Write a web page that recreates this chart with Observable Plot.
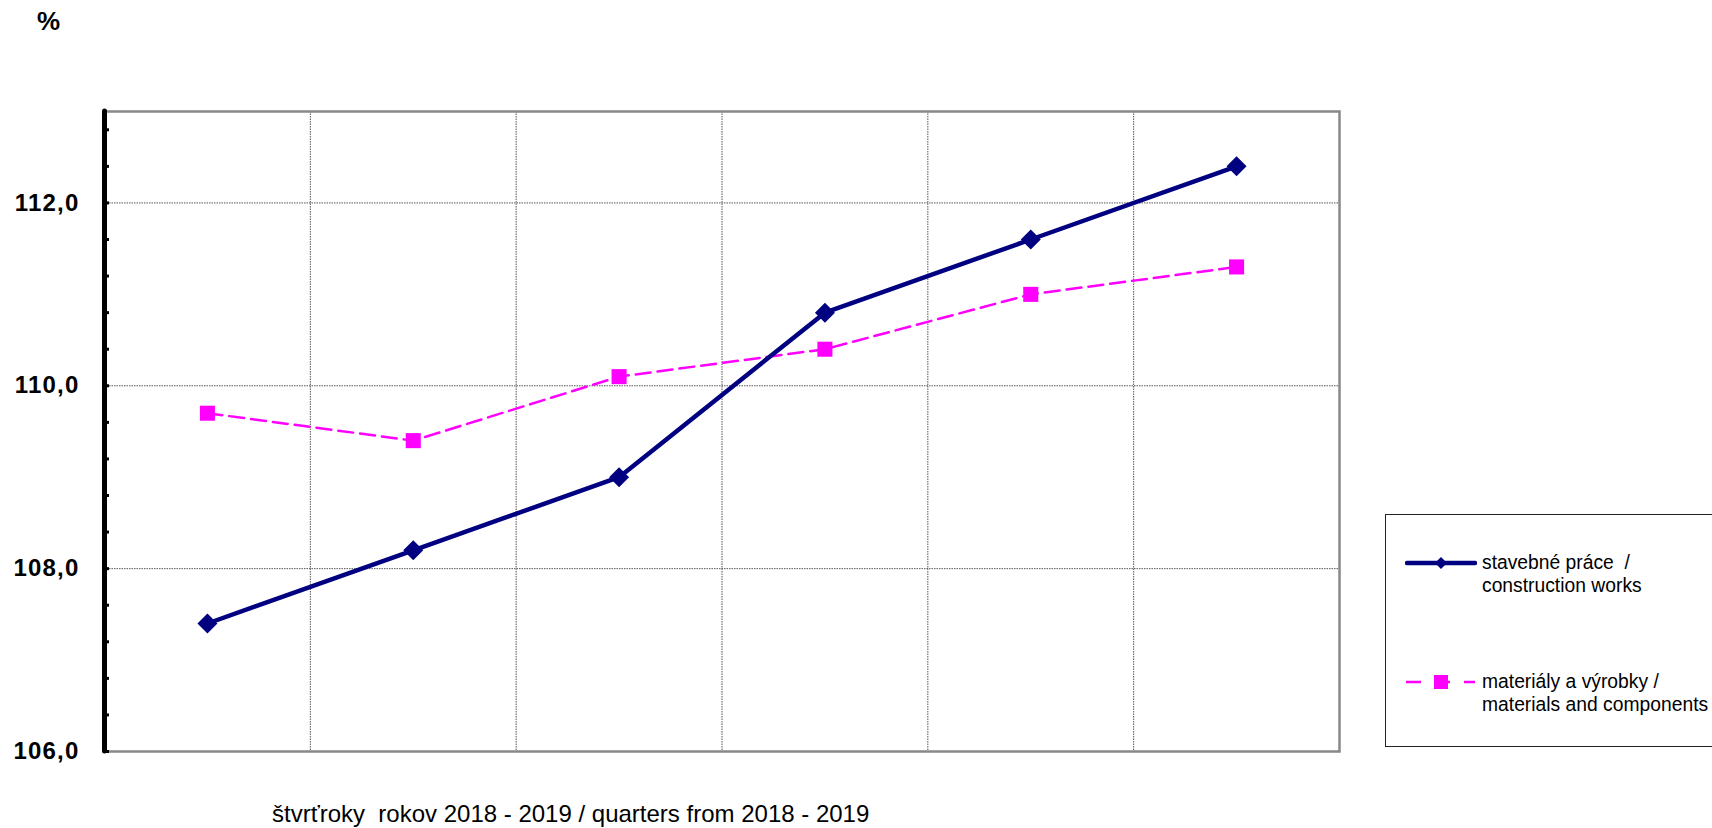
<!DOCTYPE html>
<html>
<head>
<meta charset="utf-8">
<script src="https://cdn.jsdelivr.net/npm/d3@7"></script>
<script src="https://cdn.jsdelivr.net/npm/@observablehq/plot@0.6"></script>
<style>
  html, body { margin: 0; padding: 0; background: #fff; }
  body { font-family: "Liberation Sans", Arial, sans-serif; }
  #wrap { position: relative; width: 1712px; height: 828px; overflow: hidden; }
  #chart { position: absolute; left: 0; top: 0; }
  #chart svg g[aria-label="y-axis tick label"] text { letter-spacing: 1.2px; }
  #pct { position: absolute; left: 37px; top: 8px; font-size: 26px; font-weight: bold; color: #000; line-height: 1; }
  #xlabel { position: absolute; left: 272px; top: 802px; font-size: 24px; color: #000; white-space: pre; line-height: 1; }
  #legend { position: absolute; left: 1385px; top: 514px; width: 400px; height: 233px; border: 1px solid #222; box-sizing: border-box; background: #fff; }
  .item { position: absolute; left: 19px; display: flex; align-items: flex-start; }
  .item svg { flex: none; }
  .item .txt { font-size: 19.3px; line-height: 23px; color: #000; margin-left: 5px; white-space: pre; }
</style>
</head>
<body>
<div id="wrap">
  <div id="chart"></div>
  <div id="pct"></div>
  <div id="xlabel"></div>
  <div id="legend"></div>
</div>
<script>
// ---- data ----
const quarters = ["II.Q 2018", "III.Q 2018", "IV.Q 2018", "I.Q 2019", "II.Q 2019", "III.Q 2019"];
const construction = [107.4, 108.2, 109.0, 110.8, 111.6, 112.4];
const materials = [109.7, 109.4, 110.1, 110.4, 111.0, 111.3];
const yTickLabels = [106, 108, 110, 112];
const seriesNames = ["stavebné práce  /\nconstruction works", "materiály a výrobky /\nmaterials and components"];
const xTitle = "štvrťroky  rokov 2018 - 2019 / quarters from 2018 - 2019";
const yTitle = "%";

const navy = "#000080";
const magenta = "#FF00FF";

const consData = quarters.map((q, i) => ({q, i, v: construction[i]}));
const matData = quarters.map((q, i) => ({q, i, v: materials[i]}));
const minorTicks = d3.range(0, 18).map(k => +(106 + k * 0.4).toFixed(1));
const fmt = d => d.toFixed(1).replace(".", ",");
const xPos = d => d.i + 0.5;

const plot = Plot.plot({
  width: 1712,
  height: 828,
  marginLeft: 104,
  marginRight: 373,
  marginTop: 111,
  marginBottom: 77,
  style: { fontFamily: "Liberation Sans, Arial, sans-serif", background: "white", overflow: "visible" },
  x: { domain: [0, quarters.length], axis: null },
  y: { domain: [106, 113], axis: null },
  marks: [
    Plot.ruleY(yTickLabels.filter(t => t > 106), { stroke: "#555", strokeWidth: 1, strokeDasharray: "1.5,1" }),
    Plot.ruleX(d3.range(1, quarters.length), { stroke: "#555", strokeWidth: 1, strokeDasharray: "1.5,1" }),
    Plot.frame({ stroke: "#888", strokeWidth: 2.5 }),
    Plot.ruleX([0], { stroke: "black", strokeWidth: 5, strokeLinecap: "round" }),
    Plot.axisY(minorTicks, { tickSize: -5, tickFormat: () => "", strokeWidth: 3, stroke: "black", label: null }),
    Plot.axisY(yTickLabels, { tickSize: 0, tickPadding: 25, tickFormat: fmt, fontSize: 24, fontWeight: "bold", fill: "black", label: null }),
    Plot.line(matData, { x: xPos, y: "v", stroke: magenta, strokeWidth: 2.5, strokeDasharray: "15,7" }),
    Plot.dot(matData, { x: xPos, y: "v", symbol: "square", r: 8.5, fill: magenta, stroke: "none" }),
    Plot.line(consData, { x: xPos, y: "v", stroke: navy, strokeWidth: 4.5 }),
    Plot.dot(consData, { x: xPos, y: "v", symbol: "diamond2", r: 9, fill: navy, stroke: "none" })
  ]
});
document.getElementById("chart").appendChild(plot);
document.getElementById("xlabel").textContent = xTitle;
document.getElementById("pct").textContent = yTitle;

// legend
const legend = document.getElementById("legend");
const swatches = [
  `<svg width="72" height="24"><line x1="2" y1="12" x2="70" y2="12" stroke="${navy}" stroke-width="4.5" stroke-linecap="round"/><path d="M36,6 L42,12 L36,18 L30,12 Z" fill="${navy}"/></svg>`,
  `<svg width="72" height="24"><line x1="1" y1="12" x2="70" y2="12" stroke="${magenta}" stroke-width="2.5" stroke-dasharray="15,14"/><rect x="29" y="5" width="14" height="14" fill="${magenta}"/></svg>`
];
const tops = [36, 155];
seriesNames.forEach((name, k) => {
  const div = document.createElement("div");
  div.className = "item";
  div.style.top = tops[k] + "px";
  const txt = document.createElement("div");
  txt.className = "txt";
  txt.textContent = name;
  div.innerHTML = swatches[k];
  div.appendChild(txt);
  legend.appendChild(div);
});
</script>
</body>
</html>
